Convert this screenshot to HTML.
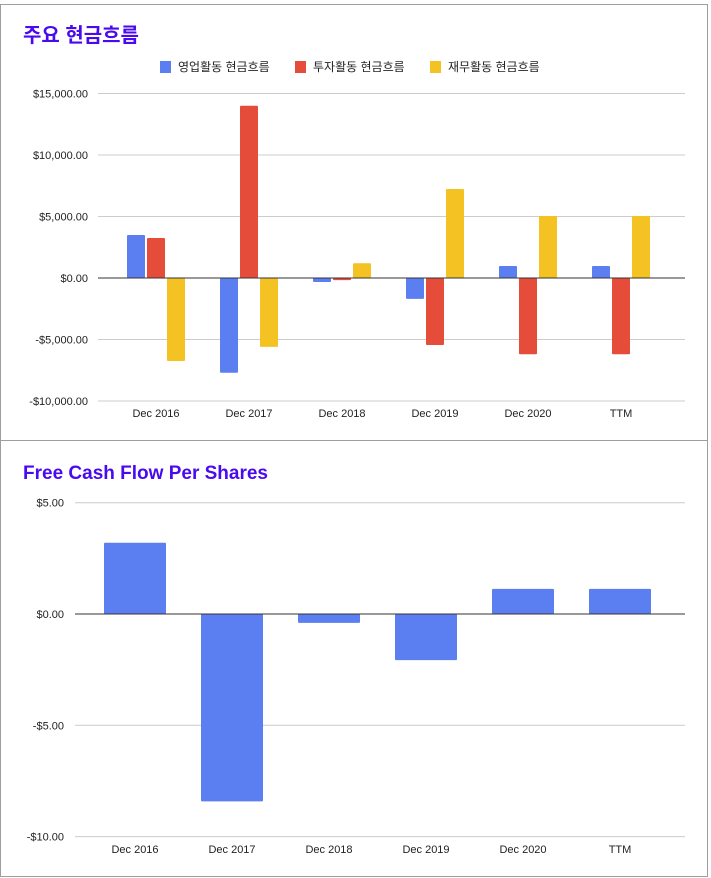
<!DOCTYPE html>
<html><head><meta charset="utf-8"><style>
body{margin:0;background:#fff;width:711px;height:878px;overflow:hidden;font-family:"Liberation Sans","Noto Sans CJK KR",sans-serif}
svg{position:absolute;left:0;top:0}
</style></head><body>
<svg id="s" width="711" height="878">
<rect x="0.5" y="4.5" width="707" height="872" fill="#fff" stroke="#9e9e9e"/>
<line x1="0" y1="440.5" x2="708" y2="440.5" stroke="#9e9e9e"/>
<text x="23" y="42" font-size="20" font-weight="bold" fill="#4a0af0">주요 현금흐름</text>
<text x="23" y="479" font-size="19" font-weight="bold" fill="#4a0af0">Free Cash Flow Per Shares</text>
<g>
<rect x="160" y="61" width="11" height="12" fill="#5b7ff1"/>
<text x="178" y="71" font-size="12" fill="#222">영업활동 현금흐름</text>
<rect x="295" y="61" width="11" height="12" fill="#e64c3a"/>
<text x="313" y="71" font-size="12" fill="#222">투자활동 현금흐름</text>
<rect x="430" y="61" width="11" height="12" fill="#f4c223"/>
<text x="448" y="71" font-size="12" fill="#222">재무활동 현금흐름</text>
</g>
<g id="gtop"></g><g id="gbot"></g>
</svg>
<script>
const categories=["Dec 2016","Dec 2017","Dec 2018","Dec 2019","Dec 2020","TTM"];
const operating=[3500,-7700,-330,-1700,980,980];
const investing=[3250,14000,-170,-5450,-6200,-6200];
const financing=[-6750,-5600,1200,7240,5040,5040];
const topTicks=[15000,10000,5000,0,-5000,-10000];
const topTickLabels=["$15,000.00","$10,000.00","$5,000.00","$0.00","-$5,000.00","-$10,000.00"];
const fcf=[3.2,-8.42,-0.4,-2.07,1.13,1.13];
const botTicks=[5,0,-5,-10];
const botTickLabels=["$5.00","$0.00","-$5.00","-$10.00"];

const NS="http://www.w3.org/2000/svg";
function mk(p,t,a,txt){const e=document.createElementNS(NS,t);for(const k in a)e.setAttribute(k,a[k]);if(txt!==undefined)e.textContent=txt;p.appendChild(e);return e;}
const yT=v=>278-(v/5000)*61.5;
const xT=i=>156+i*93;
const yB=v=>614-(v/5)*111.3;
const xB=i=>135+i*97;
const gTop=document.getElementById('gtop'),gBot=document.getElementById('gbot');
topTicks.forEach((t,i)=>{
  const l=mk(gTop,'line',{x1:98,x2:685,y1:yT(t),y2:yT(t),stroke:t===0?'#333':'#ccc'});
  
  
  const tx=mk(gTop,'text',{x:88,y:yT(t)+4,'font-size':11,'text-anchor':'end',fill:'#222'},topTickLabels[i]);
  
  
});
const series=[[operating,'#5b7ff1',-29],[investing,'#e64c3a',-9],[financing,'#f4c223',11]];
categories.forEach((c,i)=>{
  series.forEach(([arr,col,off])=>{
    const v=arr[i],y0=yT(0),y1=yT(v);
    const r=mk(gTop,'rect',{x:xT(i)+off,y:Math.min(y0,y1),width:18,height:Math.max(1,Math.abs(y1-y0)),fill:col,rx:1});
    
    
  });
  const tx=mk(gTop,'text',{x:xT(i),y:417,'font-size':11,'text-anchor':'middle',fill:'#222'},c);
  
  
});
const z=mk(gTop,'line',{x1:98,x2:685,y1:yT(0),y2:yT(0),stroke:'#333'});



botTicks.forEach((t,i)=>{
  const l=mk(gBot,'line',{x1:75,x2:685,y1:yB(t),y2:yB(t),stroke:t===0?'#333':'#ccc'});
  
  
  const tx=mk(gBot,'text',{x:64,y:yB(t)+4,'font-size':11,'text-anchor':'end',fill:'#222'},botTickLabels[i]);
  
  
});
categories.forEach((c,i)=>{
  const v=fcf[i],y0=yB(0),y1=yB(v);
  const r=mk(gBot,'rect',{x:xB(i)-31,y:Math.min(y0,y1),width:62,height:Math.abs(y1-y0),fill:'#5b7ff1',rx:1});
  
  
  const tx=mk(gBot,'text',{x:xB(i),y:853,'font-size':11,'text-anchor':'middle',fill:'#222'},c);
  
  
});
const z2=mk(gBot,'line',{x1:75,x2:685,y1:yB(0),y2:yB(0),stroke:'#333'});


</script>
</body></html>
